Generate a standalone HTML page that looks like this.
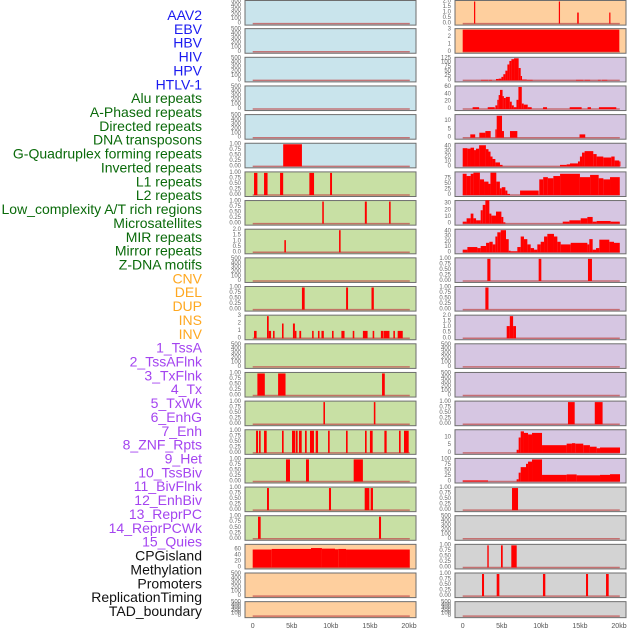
<!DOCTYPE html>
<html><head><meta charset="utf-8">
<style>
html,body{margin:0;padding:0;background:#fff;}
svg{display:block;font-family:"Liberation Sans",sans-serif;}
</style></head>
<body>
<svg id="chart" width="630" height="630" viewBox="0 0 630 630" xmlns="http://www.w3.org/2000/svg"></svg>
<script>
// ---- data ----
const trackLabels = ["AAV2","EBV","HBV","HIV","HPV","HTLV-1","Alu repeats","A-Phased repeats","Directed repeats","DNA transposons","G-Quadruplex forming repeats","Inverted repeats","L1 repeats","L2 repeats","Low_complexity A/T rich regions","Microsatellites","MIR repeats","Mirror repeats","Z-DNA motifs","CNV","DEL","DUP","INS","INV","1_TssA","2_TssAFlnk","3_TxFlnk","4_Tx","5_TxWk","6_EnhG","7_Enh","8_ZNF_Rpts","9_Het","10_TssBiv","11_BivFlnk","12_EnhBiv","13_ReprPC","14_ReprPCWk","15_Quies","CPGisland","Methylation","Promoters","ReplicationTiming","TAD_boundary"];
const labelGroups = [0,0,0,0,0,0,1,1,1,1,1,1,1,1,1,1,1,1,1,2,2,2,2,2,3,3,3,3,3,3,3,3,3,3,3,3,3,3,3,4,4,4,4,4];
const xTickValues = [0,5,10,15,20];
const xTickLabels = ["0","5kb","10kb","15kb","20kb"];

// left column segments [startKb, endKb, value]
const L0=[],L1=[],L2=[],L3=[],L4=[];
const L5=[[3.9,6.3,1]];
const L6=[[0.17,0.6,1],[1.45,1.9,1],[3.5,3.9,1],[7.25,7.85,1],[9.9,10.15,1]];
const L7=[[8.9,9.1,1],[14.35,14.6,1],[17.45,17.65,1]];
const L8=[[4.05,4.25,1.1],[11.05,11.25,2]];
const L9=[];
const L10=[[6.3,6.65,1],[11.95,12.2,1],[15.2,15.5,1]];
const L11=[[0.17,0.5,1],[1.83,2.05,3],[2.05,2.35,1],[2.6,2.8,1],[3.75,3.95,2],[5.15,5.4,2],[5.4,5.6,1],[5.97,6.2,1],[7.6,7.8,1],[8.35,8.55,1],[8.8,9.1,1],[10.15,10.35,1],[11.35,11.75,1],[12.8,13.0,1],[14.1,14.7,1],[15.35,15.55,1],[16.4,16.7,1],[16.75,17.5,1],[18.0,18.2,1],[18.55,19.2,1]];
const L12=[];
const L13=[[0.6,1.55,1],[3.25,4.2,1],[16.55,16.9,1]];
const L14=[[9.05,9.25,1],[15.5,15.7,1]];
const L15=[[0.43,0.68,1],[0.81,1.02,1],[1.45,1.79,1],[3.75,3.96,1],[5.03,5.46,1],[5.54,5.75,1],[5.92,6.27,1],[6.69,6.91,1],[7.33,7.84,1],[8.06,8.36,1],[9.64,9.85,1],[11.94,12.15,1],[14.37,14.58,1],[15.0,15.35,1],[16.85,17.14,1],[18.72,18.93,1],[19.36,19.96,1]];
const L16=[[4.26,4.77,1],[6.82,7.2,1],[12.92,14.1,1]];
const L17=[[1.83,2.08,1],[9.76,10.02,1],[14.33,14.93,1],[15.09,15.39,1]];
const L18=[[0.68,1.02,1],[16.16,16.42,1]];
const L19=[[0.0,2.43,60],[2.43,7.46,62],[7.46,8.86,65],[8.86,10.53,63],[10.53,10.95,61],[10.95,11.94,62],[11.94,20.1,60]];
const L20=[],L21=[];

// right column segments
const R0=[[1.45,1.6,2],[12.3,12.45,2],[14.65,14.85,1],[18.75,18.9,1]];
const R1=[[0.0,20.04,3]];
const R2=[[2.34,3.24,3],[3.32,3.75,3],[4.26,4.6,8],[4.6,4.95,10],[4.95,5.2,20],[5.2,5.46,35],[5.46,5.72,55],[5.72,5.97,90],[5.97,6.23,110],[6.23,6.57,120],[6.57,7.16,125],[7.16,7.42,70],[7.42,7.59,25],[7.59,8.19,5],[8.19,8.95,3],[14.5,15.44,3],[15.6,16.3,3],[17.3,17.65,3],[17.82,18.5,3]];
const R3=[[1.27,2.1,5],[3.2,4.1,5],[4.18,4.43,10],[4.43,4.6,25],[4.6,4.77,38],[4.77,5.1,52],[5.1,5.27,35],[5.27,5.52,30],[5.52,6.03,33],[6.03,6.28,20],[6.28,6.54,10],[6.54,6.88,5],[6.88,7.13,25],[7.13,7.56,60],[7.56,7.81,15],[7.81,8.32,12],[8.32,8.83,5],[10.28,10.79,5],[13.69,15.22,5],[15.98,16.41,5],[17.43,19.65,5]];
const R4=[[0.97,1.6,2],[2.13,2.9,3],[2.9,3.58,4],[4.18,4.35,5],[4.35,5.03,13.2],[5.03,5.28,4],[6.05,6.99,4],[14.95,15.68,2]];
const R5=[[0.0,0.6,37],[0.6,1.0,36],[1.0,1.45,38],[1.45,1.7,33],[1.7,2.1,36],[2.1,2.97,43],[2.97,3.3,35],[3.3,3.56,30],[3.56,3.82,20],[3.82,4.18,15],[4.18,4.77,8],[4.77,5.1,3],[12.45,13.3,3],[13.3,13.73,4],[13.73,14.75,6],[14.75,15.0,10],[15.0,15.27,20],[15.27,15.6,28],[15.6,16.71,31],[16.71,17.14,25],[17.14,17.99,20],[17.99,19.01,18],[19.01,19.44,20],[19.44,20.03,12],[20.03,20.1,10]];
const R6=[[0.0,0.5,95],[0.5,1.02,85],[1.02,1.37,95],[1.37,2.2,100],[2.2,2.73,70],[2.73,3.3,60],[3.3,3.55,50],[3.55,4.3,100],[4.3,4.76,60],[4.76,5.0,30],[5.0,5.46,35],[5.46,5.72,20],[5.72,6.05,5],[7.34,9.72,20],[9.8,10.3,70],[10.3,10.9,80],[10.9,11.6,75],[11.6,12.46,85],[12.46,15.0,95],[15.0,16.3,80],[16.3,17.4,90],[17.4,18.0,75],[18.0,18.85,70],[18.85,20.1,80]];
const R7=[[0.0,0.5,3],[0.5,1.02,8],[1.02,1.37,15],[1.37,1.71,8],[1.71,2.3,5],[2.3,2.56,20],[2.56,2.9,28],[2.9,3.41,35],[3.41,3.67,15],[3.67,4.26,12],[4.26,4.95,18],[4.95,5.2,10],[5.2,5.46,2],[12.8,13.65,3],[13.65,15.1,5],[15.1,15.95,8],[15.95,16.63,10],[16.63,17.14,3],[17.14,18.93,4],[18.93,20.1,3]];
const R8=[[0.0,0.6,5],[0.6,1.88,10],[1.88,2.3,8],[2.3,2.99,12],[2.99,3.41,18],[3.41,3.84,20],[3.84,4.18,15],[4.18,4.43,30],[4.43,4.86,38],[4.86,5.54,42],[5.54,5.89,25],[5.89,6.14,3],[6.14,6.99,2],[6.99,7.42,10],[7.42,7.84,30],[7.84,8.27,25],[8.27,8.7,15],[8.7,9.13,8],[9.13,9.55,5],[9.55,9.98,15],[9.98,10.41,20],[10.41,10.83,30],[10.83,11.68,35],[11.68,12.11,30],[12.11,12.54,20],[12.54,13.82,15],[13.82,15.95,18],[15.95,16.2,15],[16.2,16.63,25],[16.63,17.06,5],[17.06,17.48,8],[17.48,18.76,24],[18.76,19.36,20],[19.36,20.1,18]];
const R9=[[3.15,3.55,1],[9.72,10.06,1],[16.03,16.54,1]];
const R10=[[2.9,3.3,1]];
const R11=[[5.63,6.03,1.1],[6.03,6.45,2],[6.45,6.82,1.1]];
const R12=[],R13=[];
const R14=[[13.47,14.33,1],[16.9,17.9,1]];
const R15=[[6.9,7.16,2],[7.16,7.42,10],[7.42,7.84,14],[7.84,8.36,13],[8.36,8.87,12],[8.87,10.15,13],[10.15,13.3,5],[13.3,13.98,6],[13.98,14.4,6.3],[14.4,15.43,6],[15.43,16.28,5],[16.28,17.14,4],[17.14,17.57,3],[17.57,20.13,3.5]];
const R16=[[0.0,3.24,5],[6.9,7.16,10],[7.16,7.42,40],[7.42,8.1,65],[8.1,8.36,80],[8.36,8.87,90],[8.87,10.15,100],[10.15,13.3,30],[13.3,14.58,32],[14.58,17.57,28],[17.57,18.85,30],[18.85,20.13,33]];
const R17=[[6.31,7.08,1]];
const R18=[];
const R19=[[3.15,3.33,1],[4.9,5.12,1],[6.22,6.91,1]];
const R20=[[2.47,2.73,1],[4.35,4.69,1],[10.27,10.57,1],[15.78,16.04,1],[18.34,18.68,1]];
const R21=[];

const leftSeries=[L0,L1,L2,L3,L4,L5,L6,L7,L8,L9,L10,L11,L12,L13,L14,L15,L16,L17,L18,L19,L20,L21];
const rightSeries=[R0,R1,R2,R3,R4,R5,R6,R7,R8,R9,R10,R11,R12,R13,R14,R15,R16,R17,R18,R19,R20,R21];
const leftYMax=[500,500,500,500,500,1,1,1,2,500,1,3,500,1,1,1,1,1,1,74,500,500];
const rightYMax=[2,3,125,60,13.3,45,99,33,42,1,1,2,500,500,1,14.4,100,1,500,1,1,500];
const T500=["0","100","200","300","400","500"], T1=["0.00","0.25","0.50","0.75","1.00"], T2=["0.0","0.5","1.0","1.5","2.0"], T3=["0","1","2","3"];
const leftTicks=[T500,T500,T500,T500,T500,T1,T1,T1,T2,T500,T1,T3,T500,T1,T1,T1,T1,T1,T1,["0","20","40","60"],T500,T500];
const rightTicks=[T2,T3,["0","25","50","75","100","125"],["0","20","40","60"],["0","5","10"],["0","10","20","30","40"],["0","25","50","75"],["0","10","20","30"],["0","10","20","30","40"],T1,T1,T2,T500,T500,T1,["0","5","10"],["0","25","50","75","100"],T1,T500,T1,T1,T500];

// ---- styling ----
const BLUE="#c9e4ec",PEACH="#fecf9e",LAV="#d6c6e2",GREEN="#c8e0a4",GRAY="#d3d3d3";
const leftBg=[BLUE,BLUE,BLUE,BLUE,BLUE,BLUE,GREEN,GREEN,GREEN,GREEN,GREEN,GREEN,GREEN,GREEN,GREEN,GREEN,GREEN,GREEN,GREEN,PEACH,PEACH,PEACH];
const rightBg=[PEACH,PEACH,LAV,LAV,LAV,LAV,LAV,LAV,LAV,LAV,LAV,LAV,LAV,LAV,LAV,LAV,LAV,GRAY,GRAY,GRAY,GRAY,GRAY];
const groupColors=["#1a1af0","#0a6a0a","#ffa820","#a444f0","#111111"];

const NS="http://www.w3.org/2000/svg";
const svg=document.getElementById('chart');
function mk(tag,attrs,parent){const e=document.createElementNS(NS,tag);for(const k in attrs)e.setAttribute(k,attrs[k]);(parent||svg).appendChild(e);return e;}

// labels
trackLabels.forEach((t,k)=>{
  const e=mk('text',{x:202,y:15+k*13.86,'text-anchor':'end','dominant-baseline':'central','font-size':'14',fill:groupColors[labelGroups[k]]});
  
  
  e.textContent=t;
});

const cols=[{x0:245,x1:416,z:252.7,w:409,tickX:241,series:leftSeries,ymax:leftYMax,ticks:leftTicks,bg:leftBg,name:'left'},
            {x0:455,x1:626,z:462.7,w:619,tickX:451,series:rightSeries,ymax:rightYMax,ticks:rightTicks,bg:rightBg,name:'right'}];

cols.forEach(c=>{
  const xs=v=>c.z+(v/20)*(c.w-c.z);
  for(let i=0;i<22;i++){
    const top=i===0?0.5:28.65*i, h=i===21?16:24.6;
    const g=mk('g',{});
    
    
    const r=mk('rect',{x:c.x0,y:top,width:c.x1-c.x0,height:h,fill:c.bg[i],stroke:'#6e6e6e','stroke-width':1},g);
    
    
    const ym=c.ymax[i];
    const y0=top+h-1.5, yT=top+1;
    const ys=v=>y0-(v/ym)*(y0-yT);
    // baseline
    const bl=mk('line',{x1:xs(0),x2:xs(20.1),y1:y0,y2:y0,stroke:'#c05050','stroke-width':1.5,'stroke-opacity':0.75},g);
    
    
    c.series[i].forEach(s=>{
      const x1=xs(s[0]),x2=xs(s[1]),yv=ys(s[2]);
      const b=mk('rect',{x:x1,y:yv,width:Math.max(x2-x1,1.2),height:y0-yv,fill:'#ff0000'},g);
      
      
    });
    // y ticks
    const tl=c.ticks[i], n=tl.length;
    tl.forEach((t,k)=>{
      const v=parseFloat(t);
      const e=mk('text',{x:c.tickX,y:ys(v),'text-anchor':'end','dominant-baseline':'central','font-size':'6',fill:'#666'},g);
      
      
      e.textContent=t;
    });
  }
  xTickValues.forEach((v,k)=>{
    const e=mk('text',{x:xs(v),y:628,'text-anchor':'middle','font-size':'7',fill:'#555'});
    
    
    e.textContent=xTickLabels[k];
  });
});
</script>
</body></html>
